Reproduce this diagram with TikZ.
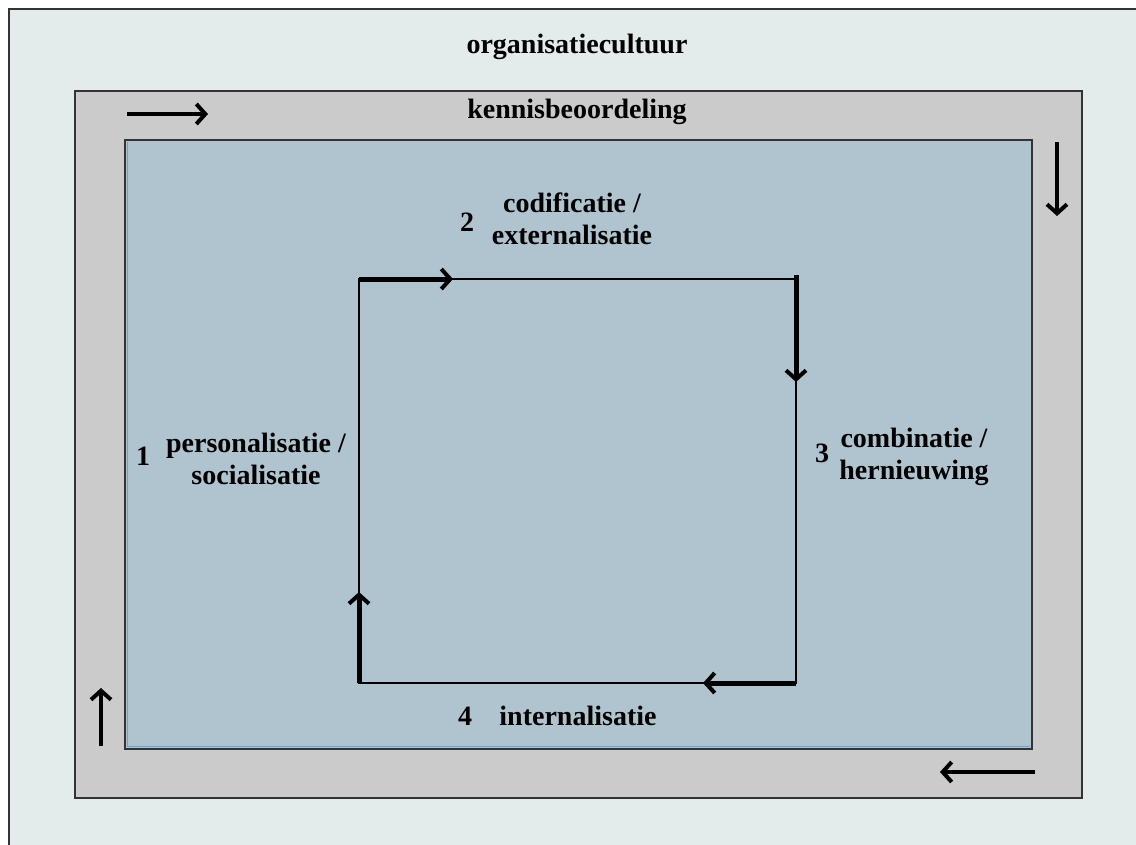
\documentclass[tikz,border=0pt]{standalone}
\usepackage{fontspec}
\setmainfont{Liberation Serif}
\usetikzlibrary{arrows.meta}
\definecolor{bgc}{HTML}{E3EBEB}
\definecolor{frm}{HTML}{CBCBCB}
\definecolor{inn}{HTML}{B0C4CF}
\definecolor{bluel}{HTML}{6F9FD4}
\begin{document}
\begin{tikzpicture}[x=1pt,y=-1pt,
  lbl/.style={font=\bfseries\fontsize{28}{32}\selectfont, inner sep=0pt, align=center},
  frarrow/.style={line width=4pt, -{Straight Barb[length=9pt,width=20pt,line width=4pt]}},
  cyarrow/.style={line width=5pt, -{Straight Barb[length=9pt,width=20pt,line width=4pt]}},
  boxline/.style={draw=black!80, line width=1.2pt}]
\useasboundingbox (0,0) rectangle (1136,844);
\fill[white] (0,0) rectangle (1136,844);
\begin{scope}
\clip (0,0) rectangle (1136,844);
\draw[boxline, fill=bgc] (9,9) rectangle (1160,870);
\end{scope}
\draw[boxline, fill=frm] (75,91) rectangle (1082,798);
\draw[boxline, fill=inn] (125,140) rectangle (1032,749);
\draw[bluel, line width=1pt] (127,142) -- (127,746) -- (1030,746);
% frame arrows
\coordinate (ta) at (127,114); \coordinate (tb) at (208,114);
\coordinate (ra) at (1057,142); \coordinate (rb) at (1057,216);
\coordinate (ba) at (1035,772); \coordinate (bb) at (940,772);
\coordinate (la) at (101,746); \coordinate (lb) at (101,688);
\draw[frarrow] (ta) -- (tb);
\draw[frarrow] (ra) -- (rb);
\draw[frarrow] (ba) -- (bb);
\draw[frarrow] (la) -- (lb);
% inner cycle
\coordinate (c1) at (359,279); \coordinate (c2) at (796,279);
\coordinate (c3) at (796,683); \coordinate (c4) at (359,683);
\draw[black, line width=1.2pt] (c1) -- (c2) -- (c3) -- (c4) -- cycle;
\coordinate (a1) at (453,279); \coordinate (a2) at (796,382);
\coordinate (a3) at (703,683); \coordinate (a4) at (359,592);
\draw[cyarrow] (c1) -- (a1);
\draw[cyarrow] ([yshift=4pt]c2) -- (a2);
\draw[cyarrow] (c3) -- (a3);
\draw[cyarrow] (c4) -- (a4);
% labels
\node[lbl] (title) at (577,47) {organisatiecultuur};
\node[lbl] (kb) at (577,112) {kennisbeoordeling};
\node[lbl] (n2) at (467,222) {2};
\node[lbl] (t2) at (572,219) {codificatie /\\externalisatie};
\node[lbl] (n1) at (143,456) {1};
\node[lbl] (t1) at (256,459) {personalisatie /\\socialisatie};
\node[lbl] (n3) at (822,453) {3};
\node[lbl] (t3) at (914,457) {combinatie /\\hernieuwing};
\node[lbl] (n4) at (465,716) {4};
\node[lbl] (t4) at (578,716) {internalisatie};
\end{tikzpicture}
\end{document}
